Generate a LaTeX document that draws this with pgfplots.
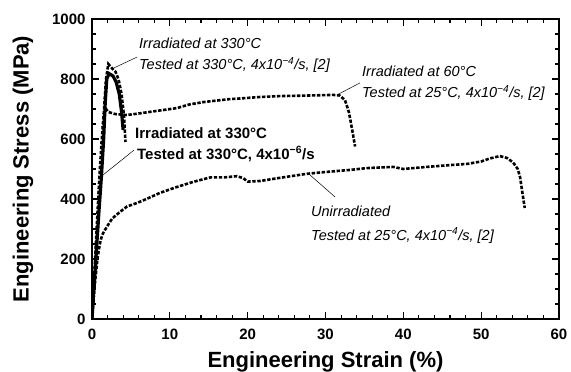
\documentclass[border=0pt]{standalone}
\usepackage{fontspec}
\setmainfont{Liberation Sans}
\usepackage{pgfplots}
\pgfplotsset{compat=1.18}
\begin{document}
\begin{tikzpicture}
\path[use as bounding box] (-92pt,-53pt) rectangle (479pt,319pt);
\begin{axis}[
  at={(0pt,0pt)}, anchor=south west,
  scale only axis, width=467pt, height=300pt,
  xmin=0, xmax=60, ymin=0, ymax=1000,
  xtick={0,10,...,60}, ytick={0,200,...,1000},
  minor x tick num=4, minor y tick num=3,
  tick align=inside, major tick length=7pt, minor tick length=4pt,
  axis line style={line width=1.6pt},
  every tick/.style={black, line width=1.1pt},
  /pgf/number format/assume math mode=true,
  /pgf/number format/1000 sep={},
  every tick label/.append style={font=\fontsize{15}{18}\selectfont\bfseries},
  xticklabel={\textbf{\pgfmathprintnumber{\tick}}},
  yticklabel={\textbf{\pgfmathprintnumber{\tick}}},
  yticklabel style={xshift=-3pt},
  xticklabel style={yshift=-6pt},
  xlabel={Engineering Strain (\%)},
  ylabel={Engineering Stress (MPa)},
  label style={font=\fontsize{22}{26}\selectfont\bfseries},
  xlabel style={at={(axis description cs:0.5,-0.1433)}, anchor=center},
  ylabel style={at={(axis description cs:-0.1478,0.5)}, anchor=center},
]
% Irradiated at 60C, tested 25C, 4e-4
\addplot[black, line width=2.6pt, dash pattern=on 3.4pt off 1.6pt] coordinates {
(0,0)(0.3,150)(0.6,300)(0.9,450)(1.2,580)(1.5,680)(1.8,700)(2.1,690)(3,683)(4.5,680)(6,685)(8.7,695)(10.9,703)(12.5,715)(14.3,723)(17.7,733)(19,735)(21.6,740)(24.2,743)(28,745)(31,747)(31.8,745)(32.5,730)(33,690)(33.2,663)(33.5,620)(33.8,575)};
% Unirradiated
\addplot[black, line width=2.6pt, dash pattern=on 3.4pt off 1.6pt] coordinates {
(0,0)(0.3,100)(0.7,200)(1.0,250)(1.2,270)(1.4,285)(1.9,307)(2.6,335)(3.6,357)(4.5,375)(5.8,387)(7,400)(8.7,420)(10.9,440)(13,457)(15.2,472)(17,472)(18.6,476)(19.4,470)(20,458)(21.6,460)(24,470)(27.6,484)(30,490)(33.2,497)(35.3,503)(38.7,507)(40,500)(43,507)(46,513)(48.2,517)(50,525)(51.1,535)(52.4,543)(53.3,537)(54.1,522)(54.7,500)(55,473)(55.3,420)(55.6,370)};
% Irradiated 330C, tested 330C, 4e-4
\addplot[black, line width=2.6pt, dash pattern=on 3.4pt off 1.6pt] coordinates {
(0,0)(0.3,130)(0.6,270)(0.9,410)(1.2,540)(1.5,680)(1.8,800)(2.1,850)(2.6,835)(3.0,825)(3.4,800)(3.8,750)(4.1,680)(4.3,590)};
% Irradiated 330C, tested 330C, 4e-6 (solid)
\addplot[black, line width=3.2pt] coordinates {
(0,0)(0.3,120)(0.6,240)(0.9,360)(1.2,470)(1.5,600)(1.7,720)(1.9,800)(2.2,818)(2.7,810)(3.1,790)(3.5,750)(3.8,690)(4.0,630)};

% annotations
\node[anchor=base west, font=\fontsize{14.5}{17}\selectfont\itshape, inner sep=0pt] at (axis cs:6.04,903) {Irradiated at 330°C};
\node[anchor=base west, font=\fontsize{14.5}{17}\selectfont\itshape, inner sep=0pt] at (axis cs:6.04,830) {Tested at 330°C, 4x10\textsuperscript{−4}/s, [2]};
\draw[black, line width=0.5pt] (axis cs:5.78,873) -- (axis cs:2.83,837);

\node[anchor=base west, font=\fontsize{15}{18}\selectfont\bfseries, inner sep=0pt] at (axis cs:5.52,603) {Irradiated at 330°C};
\node[anchor=base west, font=\fontsize{15}{18}\selectfont\bfseries, inner sep=0pt] at (axis cs:5.78,533) {Tested at 330°C, 4x10\textsuperscript{−6}/s};
\draw[black, line width=0.5pt] (axis cs:5.40,563) -- (axis cs:1.41,480);

\node[anchor=base west, font=\fontsize{14.5}{17}\selectfont\itshape, inner sep=0pt] at (axis cs:34.69,807) {Irradiated at 60°C};
\node[anchor=base west, font=\fontsize{14.5}{17}\selectfont\itshape, inner sep=0pt] at (axis cs:34.69,737) {Tested at 25°C, 4x10\textsuperscript{−4}/s, [2]};
\draw[black, line width=0.5pt] (axis cs:34.43,787) -- (axis cs:31.48,747);

\node[anchor=base west, font=\fontsize{14.5}{17}\selectfont\itshape, inner sep=0pt] at (axis cs:28.14,340) {Unirradiated};
\node[anchor=base west, font=\fontsize{14.5}{17}\selectfont\itshape, inner sep=0pt] at (axis cs:28.14,263) {Tested at 25°C, 4x10\textsuperscript{−4}/s, [2]};
\draw[black, line width=0.5pt] (axis cs:28.01,480) -- (axis cs:31.22,407);
\end{axis}
\end{tikzpicture}
\end{document}
